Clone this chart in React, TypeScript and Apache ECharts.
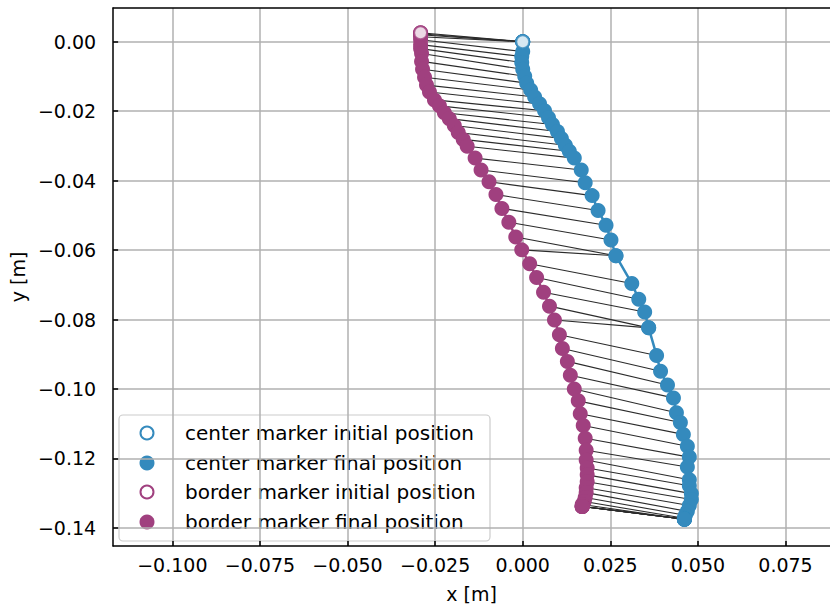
import React, { useEffect, useRef } from "react";
import * as echarts from "echarts";

// Border marker final positions (m)
const borderX = [
  -0.02915, -0.02915, -0.02915, -0.02915, -0.02915, -0.02915, -0.02915, -0.02887, -0.02887, -0.02859,
  -0.02802, -0.02746, -0.02661, -0.02519, -0.02377, -0.02236, -0.02095, -0.01953, -0.0184, -0.01698,
  -0.01585, -0.01359, -0.01189, -0.00962, -0.00764, -0.00594, -0.00396, -0.00198, -0.00028, 0.00198,
  0.00396, 0.00594, 0.00764, 0.00906, 0.01047, 0.01132, 0.01274, 0.01359, 0.01472, 0.01585,
  0.01642, 0.01727, 0.01783, 0.01811, 0.01811, 0.0184, 0.0184, 0.0184, 0.01811, 0.01811,
  0.01783, 0.01755, 0.01698, 0.01698, 0.01698, 0.01698, 0.01698, 0.01698,
];
const borderY = [
  0.00256, 0.00227, 0.00199, 0.00142, 0.00057, -0.00085, -0.00199, -0.00341, -0.00568, -0.00795,
  -0.01023, -0.0125, -0.01449, -0.01676, -0.01847, -0.02045, -0.02216, -0.02415, -0.02614, -0.02813,
  -0.03011, -0.03352, -0.03693, -0.04034, -0.04403, -0.04801, -0.05199, -0.05625, -0.05994, -0.06392,
  -0.0679, -0.07216, -0.07614, -0.08011, -0.08438, -0.08835, -0.09205, -0.09602, -0.1, -0.10341,
  -0.1071, -0.11051, -0.1142, -0.11761, -0.12045, -0.12273, -0.12472, -0.1267, -0.12841, -0.12983,
  -0.13125, -0.13239, -0.13324, -0.13381, -0.13381, -0.13381, -0.13381, -0.13381,
];
// Center marker final positions (m)
const centerX = [
  0, 0, 0, 0, 0, -0.00028, -0.00028, 0, 0.00057, 0.00113,
  0.00226, 0.0034, 0.00481, 0.00623, 0.00736, 0.00849, 0.00991, 0.01104, 0.01217, 0.0133,
  0.01472, 0.0167, 0.01783, 0.01981, 0.02151, 0.02378, 0.02519, 0.02661, 0.02661, 0.03113,
  0.03312, 0.03481, 0.03595, 0.03595, 0.03821, 0.03934, 0.04132, 0.04302, 0.04387, 0.045,
  0.04585, 0.04699, 0.04755, 0.04699, 0.04755, 0.04755, 0.04812, 0.04812, 0.04755, 0.04699,
  0.04642, 0.04614, 0.04614, 0.04614, 0.04614, 0.04614, 0.04614, 0.04614,
];
const centerY = [
  0, 0, 0, 0, -0.00284, -0.00426, -0.00597, -0.00795, -0.00994, -0.01193,
  -0.01392, -0.01591, -0.0179, -0.01989, -0.02188, -0.02386, -0.02585, -0.02784, -0.02983, -0.03153,
  -0.03352, -0.03693, -0.04063, -0.04432, -0.04858, -0.05284, -0.0571, -0.06165, -0.06165, -0.0696,
  -0.07415, -0.07784, -0.08239, -0.08239, -0.09034, -0.09489, -0.09886, -0.10256, -0.10682, -0.10966,
  -0.11307, -0.11648, -0.1196, -0.12244, -0.12614, -0.12784, -0.13011, -0.13182, -0.13352, -0.13523,
  -0.13636, -0.13722, -0.1375, -0.1375, -0.1375, -0.1375, -0.1375, -0.1375,
];
const centerInitial = [0, 0];
const borderInitial = [-0.02915, 0.00256];

const xTicks = [-0.1, -0.075, -0.05, -0.025, 0, 0.025, 0.05, 0.075];
const yTicks = [0, -0.02, -0.04, -0.06, -0.08, -0.1, -0.12, -0.14];

const legendLabels = [
  "center marker initial position",
  "center marker final position",
  "border marker initial position",
  "border marker final position",
];

const BLUE = "#348ABD";
const PURPLE = "#A0407F";
const FONT = "DejaVu Sans";

const fmt = (v: number, d: number) => {
  const s = Math.abs(v) < 1e-12 ? (0).toFixed(d) : v.toFixed(d);
  return s.replace("-", "\u2212");
};

export default function App() {
  const ref = useRef<HTMLDivElement>(null);
  useEffect(() => {
    if (!ref.current) return;
    const chart = echarts.init(ref.current, undefined, { renderer: "svg" });
    const pairs = borderX.map((bx, i) => [bx, borderY[i], centerX[i], centerY[i]]);
    const border = borderX.map((bx, i) => [bx, borderY[i]]);
    const center = centerX.map((cx, i) => [cx, centerY[i]]);

    const legendRowY = [433, 463, 492, 522];
    const legendStyles = [
      { fill: "#fff", stroke: BLUE, lineWidth: 2 },
      { fill: BLUE, stroke: BLUE, lineWidth: 0 },
      { fill: "#fff", stroke: PURPLE, lineWidth: 2 },
      { fill: PURPLE, stroke: PURPLE, lineWidth: 0 },
    ];
    const legendChildren: any[] = [
      {
        type: "rect",
        shape: { x: 119, y: 415, width: 371, height: 126, r: 4 },
        style: { fill: "rgba(255,255,255,0.85)", stroke: "#cccccc", lineWidth: 1.2 },
      },
    ];
    legendLabels.forEach((t, i) => {
      legendChildren.push({
        type: "circle",
        shape: { cx: 147, cy: legendRowY[i], r: legendStyles[i].lineWidth ? 6.5 : 7.5 },
        style: legendStyles[i],
      });
      legendChildren.push({
        type: "text",
        x: 185,
        y: legendRowY[i],
        style: {
          text: t,
          fill: "#000",
          font: `20px "${FONT}"`,
          verticalAlign: "middle",
        },
      });
    });

    const axisCommonLine = { lineStyle: { color: "#000", width: 1.5 } };

    chart.setOption({
      animation: false,
      backgroundColor: "#fff",
      grid: { left: 107, top: 8, right: 0, bottom: 55, containLabel: false },
      xAxis: [
        {
          type: "value",
          min: -0.1169,
          max: 0.0877,
          position: "bottom",
          axisLine: { show: true, onZero: false, ...axisCommonLine },
          axisTick: {
            show: true,
            inside: true,
            length: 5,
            customValues: xTicks,
            lineStyle: { color: "#000", width: 1.5 },
          },
          axisLabel: {
            customValues: xTicks,
            formatter: (v: number) => fmt(v, 3),
            fontSize: 19,
            fontFamily: FONT,
            color: "#000",
            margin: 9,
          },
          splitLine: { show: true, lineStyle: { color: "#b0b0b0", width: 1.5 } },
          name: "x [m]",
          nameLocation: "middle",
          nameGap: 38,
          nameTextStyle: { fontSize: 19, fontFamily: FONT, color: "#000" },
        },
        {
          type: "value",
          min: -0.1169,
          max: 0.0877,
          position: "top",
          axisLine: { show: true, onZero: false, ...axisCommonLine },
          axisTick: { show: false },
          axisLabel: { show: false },
          splitLine: { show: false },
        },
      ],
      yAxis: {
        type: "value",
        min: -0.1452,
        max: 0.0097,
        axisLine: { show: true, onZero: false, ...axisCommonLine },
        axisTick: {
          show: true,
          inside: true,
          length: 5,
          customValues: yTicks,
          lineStyle: { color: "#000", width: 1.5 },
        },
        axisLabel: {
          customValues: yTicks,
          formatter: (v: number) => fmt(v, 2),
          fontSize: 19,
          fontFamily: FONT,
          color: "#000",
          margin: 17,
        },
        splitLine: { show: true, lineStyle: { color: "#b0b0b0", width: 1.5 } },
        name: "y [m]",
        nameLocation: "middle",
        nameGap: 80,
        nameRotate: 90,
        nameTextStyle: { fontSize: 19, fontFamily: FONT, color: "#000" },
      },
      graphic: [{ type: "group", z: 100, children: legendChildren }],
      series: [
        {
          type: "custom",
          name: "links",
          xAxisIndex: 0,
          yAxisIndex: 0,
          data: pairs,
          encode: { x: [0, 2], y: [1, 3] },
          silent: true,
          z: 1,
          renderItem: (_p: any, api: any) => {
            const a = api.coord([api.value(0), api.value(1)]);
            const b = api.coord([api.value(2), api.value(3)]);
            return {
              type: "line",
              shape: { x1: a[0], y1: a[1], x2: b[0], y2: b[1] },
              style: { stroke: "#2b2b2b", lineWidth: 1.1 },
            };
          },
        },
        {
          type: "line",
          name: "border marker final position",
          data: border,
          symbol: "circle",
          symbolSize: 15,
          showAllSymbol: true,
          lineStyle: { color: PURPLE, width: 2.5 },
          itemStyle: { color: PURPLE },
          z: 2,
        },
        {
          type: "line",
          name: "center marker final position",
          data: center,
          symbol: "circle",
          symbolSize: 15,
          showAllSymbol: true,
          lineStyle: { color: BLUE, width: 2.5 },
          itemStyle: { color: BLUE },
          z: 2,
        },
        {
          type: "scatter",
          name: "border marker initial position",
          data: [borderInitial],
          symbol: "circle",
          symbolSize: 13,
          itemStyle: { color: "#fff", borderColor: PURPLE, borderWidth: 2 },
          z: 3,
        },
        {
          type: "scatter",
          name: "center marker initial position",
          data: [centerInitial],
          symbol: "circle",
          symbolSize: 13,
          itemStyle: { color: "#fff", borderColor: BLUE, borderWidth: 2 },
          z: 3,
        },
      ],
    });
    return () => chart.dispose();
  }, []);
  return <div ref={ref} style={{ width: 830, height: 608, position: "absolute", left: 0, top: 0 }} />;
}
